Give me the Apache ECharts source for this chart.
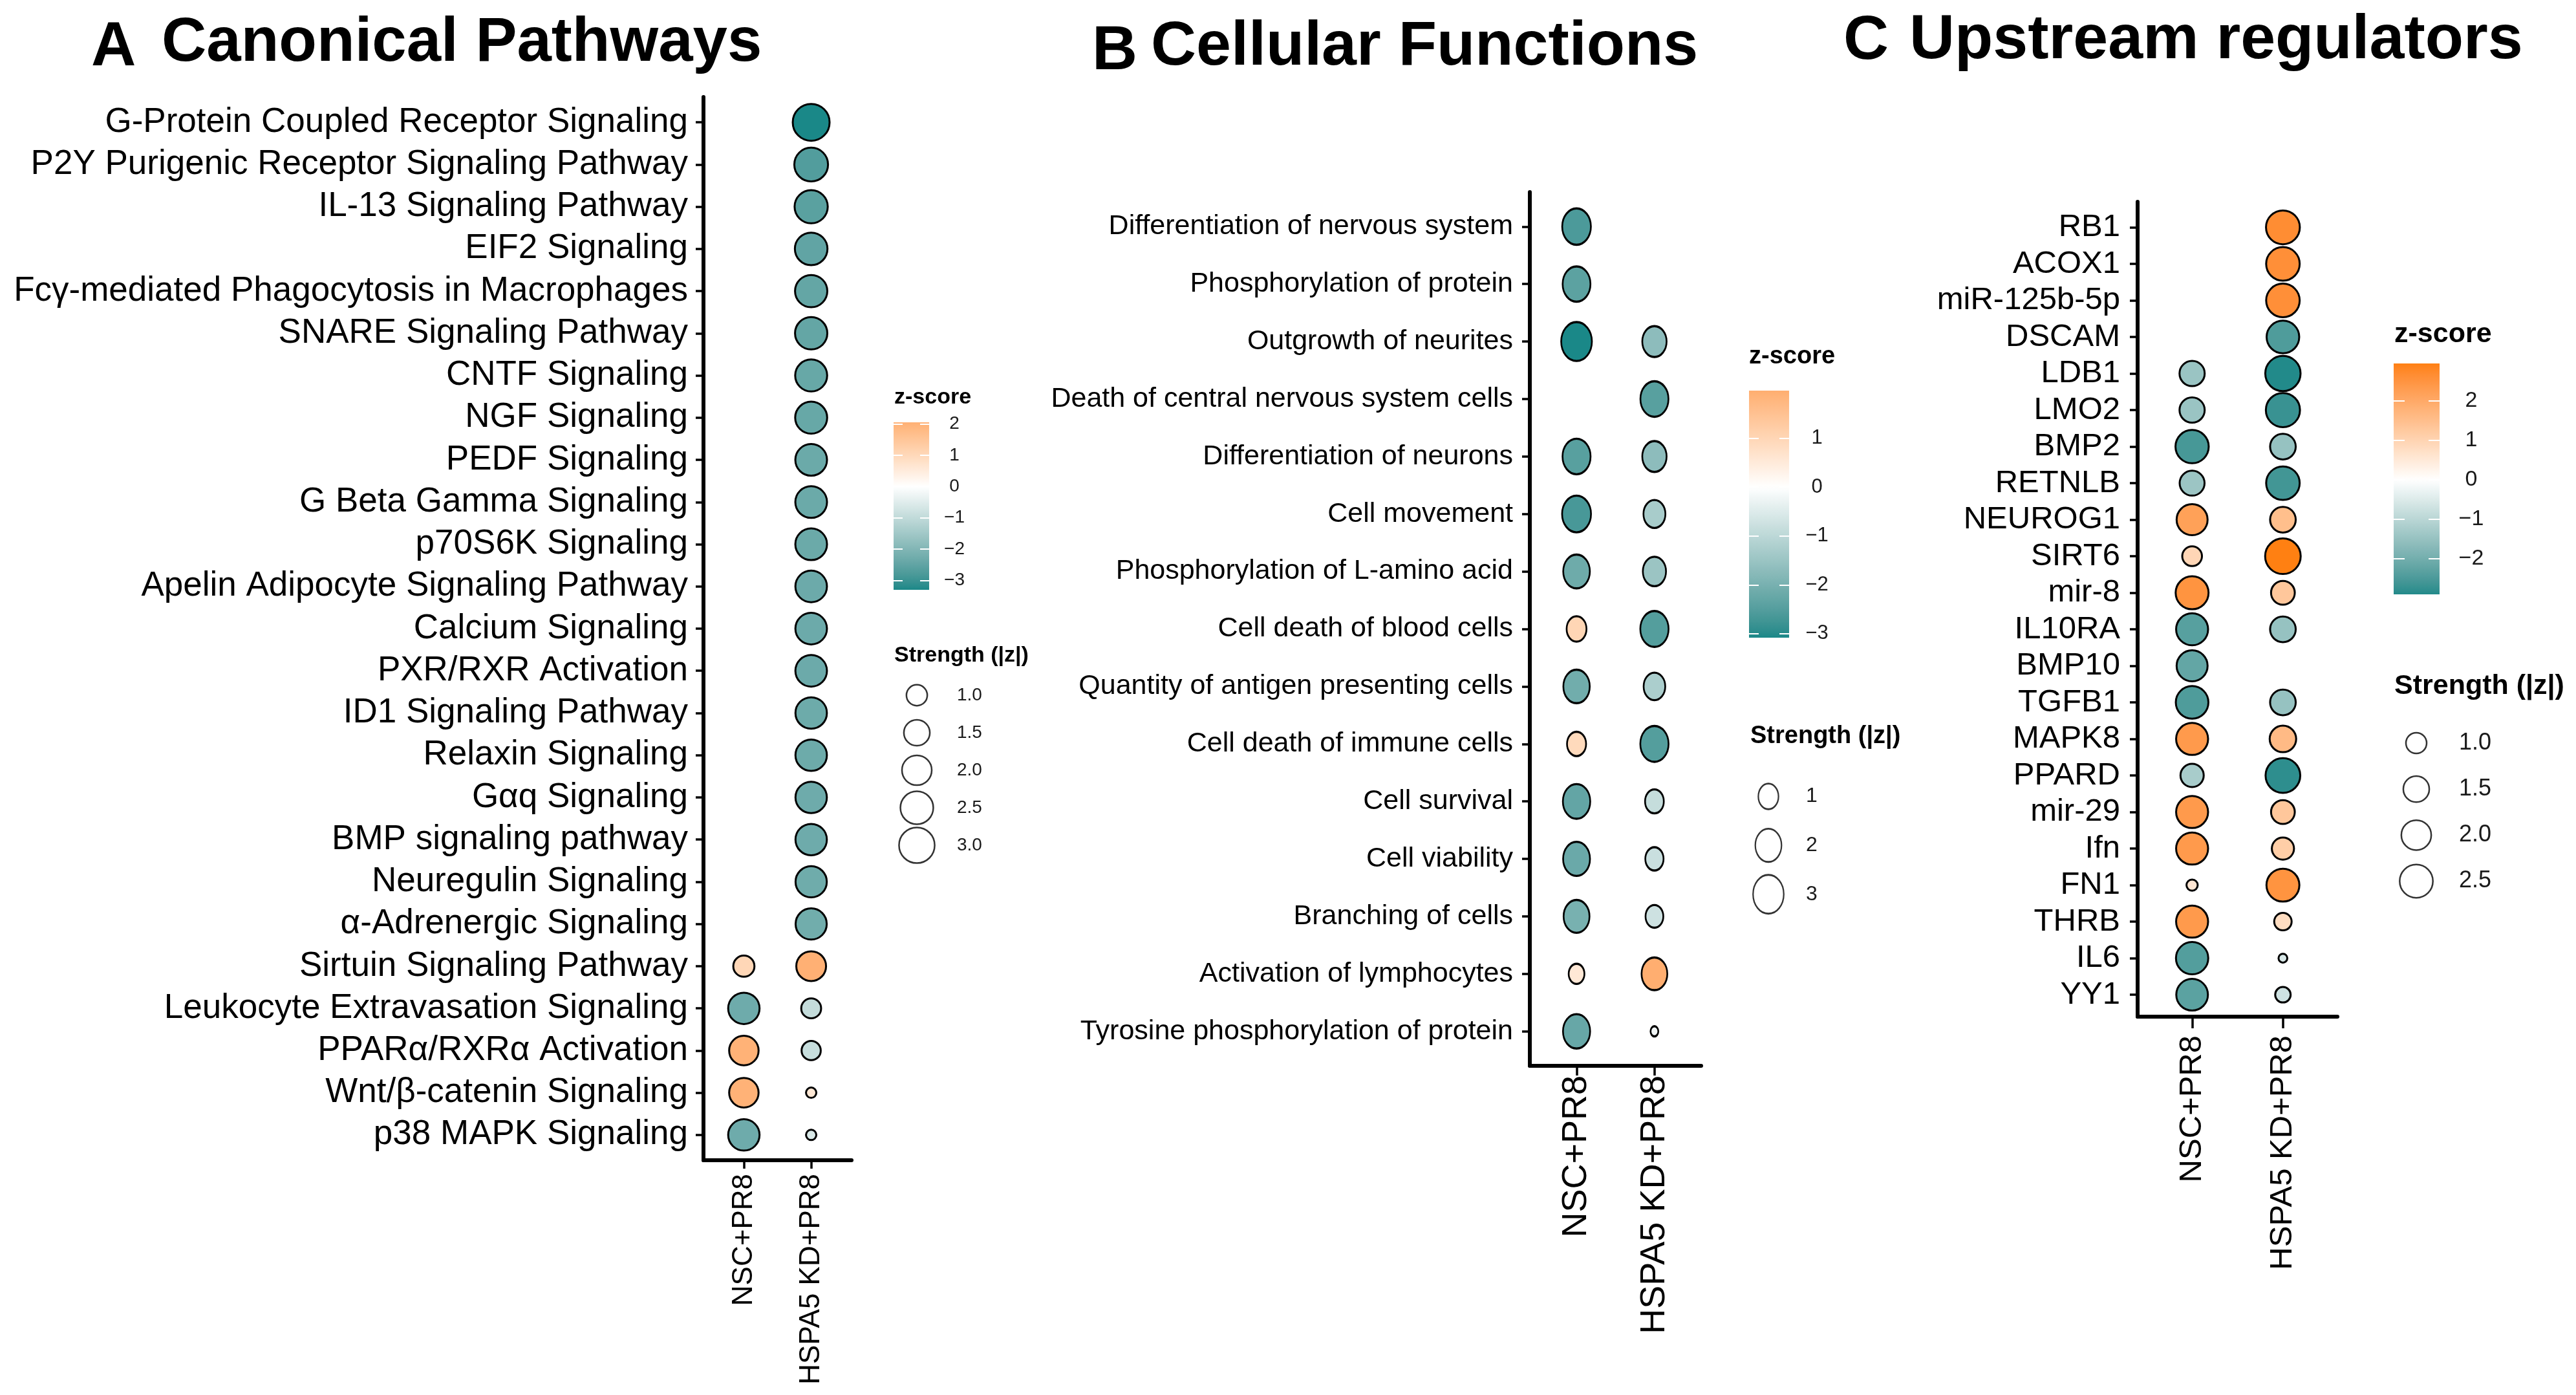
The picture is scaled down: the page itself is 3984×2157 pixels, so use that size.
<!DOCTYPE html>
<html><head><meta charset="utf-8">
<script src="https://cdn.jsdelivr.net/npm/echarts@6/dist/echarts.min.js"></script>
<style>html,body{margin:0;padding:0;background:#fff}#c{width:3984px;height:2157px}</style>
</head><body><div id="c"></div>
<script>
// ---------------- DATA ----------------
const groups = ['NSC+PR8', 'HSPA5 KD+PR8'];

const pathways = ['G-Protein Coupled Receptor Signaling', 'P2Y Purigenic Receptor Signaling Pathway', 'IL-13 Signaling Pathway',
  'EIF2 Signaling', 'Fcγ-mediated Phagocytosis in Macrophages', 'SNARE Signaling Pathway', 'CNTF Signaling', 'NGF Signaling',
  'PEDF Signaling', 'G Beta Gamma Signaling', 'p70S6K Signaling', 'Apelin Adipocyte Signaling Pathway', 'Calcium Signaling',
  'PXR/RXR Activation', 'ID1 Signaling Pathway', 'Relaxin Signaling', 'Gαq Signaling', 'BMP signaling pathway',
  'Neuregulin Signaling', 'α-Adrenergic Signaling', 'Sirtuin Signaling Pathway', 'Leukocyte Extravasation Signaling',
  'PPARα/RXRα Activation', 'Wnt/β-catenin Signaling', 'p38 MAPK Signaling'];
const pathwaysNSC = [null, null, null, null, null, null, null, null, null, null, null, null, null, null, null, null, null, null,
  null, null, 1.05, -2.3, 2.0, 2.0, -2.3];
const pathwaysKD = [-3.3, -2.7, -2.6, -2.5, -2.45, -2.45, -2.4, -2.4, -2.35, -2.35, -2.35, -2.33, -2.33, -2.33, -2.31, -2.31,
  -2.3, -2.3, -2.28, -2.26, 2.05, -0.95, -0.9, 0.6, -0.6];

const functions = ['Differentiation of nervous system', 'Phosphorylation of protein', 'Outgrowth of neurites',
  'Death of central nervous system cells', 'Differentiation of neurons', 'Cell movement', 'Phosphorylation of L-amino acid',
  'Cell death of blood cells', 'Quantity of antigen presenting cells', 'Cell death of immune cells', 'Cell survival',
  'Cell viability', 'Branching of cells', 'Activation of lymphocytes', 'Tyrosine phosphorylation of protein'];
const functionsNSC = [-2.6, -2.4, -3.08, null, -2.45, -2.65, -2.15, 1.0, -2.1, 0.9, -2.3, -2.2, -2.0, 0.55, -2.25];
const functionsKD = [null, null, -1.7, -2.45, -1.7, -1.3, -1.5, -2.5, -1.25, -2.5, -0.86, -0.8, -0.75, 1.97, -0.2];

const regulators = ['RB1', 'ACOX1', 'miR-125b-5p', 'DSCAM', 'LDB1', 'LMO2', 'BMP2', 'RETNLB', 'NEUROG1', 'SIRT6', 'mir-8',
  'IL10RA', 'BMP10', 'TGFB1', 'MAPK8', 'PPARD', 'mir-29', 'Ifn', 'FN1', 'THRB', 'IL6', 'YY1'];
const regulatorsNSC = [null, null, null, null, -1.45, -1.45, -2.55, -1.42, 2.2, 0.95, 2.5, -2.35, -2.2, -2.45, 2.35, -1.25,
  2.35, 2.35, 0.57, 2.35, -2.4, -2.3];
const regulatorsKD = [2.65, 2.6, 2.6, -2.45, -2.9, -2.7, -1.5, -2.6, 1.5, 2.95, 1.3, -1.5, null, -1.5, 1.6, -2.8, 1.3, 1.15,
  2.5, 0.8, -0.55, -0.7];

const zTicksA = [-3, -2, -1, 0, 1, 2];
const zTicksB = [-3, -2, -1, 0, 1];
const zTicksC = [-2, -1, 0, 1, 2];
const strengthA = [1.0, 1.5, 2.0, 2.5, 3.0];
const strengthB = [1, 2, 3];
const strengthC = [1.0, 1.5, 2.0, 2.5];

// ---------------- STYLE / COLOUR ----------------
const FONT = "'Liberation Sans', Arial, Helvetica, sans-serif";
const LOW = '#1a8888', MID = '#ffffff', HIGH = '#ff8012';

function hex2rgb(h) { h = h.replace('#', ''); return [0, 2, 4].map(i => parseInt(h.substr(i, 2), 16)); }
function toLin(c) { c /= 255; return c <= 0.04045 ? c / 12.92 : Math.pow((c + 0.055) / 1.055, 2.4); }
function fromLin(c) { const v = c <= 0.0031308 ? 12.92 * c : 1.055 * Math.pow(c, 1 / 2.4) - 0.055; return Math.round(Math.min(1, Math.max(0, v)) * 255); }
const XN = 0.95047, YN = 1, ZN = 1.08883;
function fL(t) { return t > 0.008856 ? Math.cbrt(t) : 7.787 * t + 16 / 116; }
function fLinv(t) { const t3 = t * t * t; return t3 > 0.008856 ? t3 : (t - 16 / 116) / 7.787; }
function rgb2lab(rgb) {
  const [r, g, b] = rgb.map(toLin);
  const X = (0.4124 * r + 0.3576 * g + 0.1805 * b) / XN, Y = (0.2126 * r + 0.7152 * g + 0.0722 * b) / YN, Z = (0.0193 * r + 0.1192 * g + 0.9505 * b) / ZN;
  const fx = fL(X), fy = fL(Y), fz = fL(Z);
  return [116 * fy - 16, 500 * (fx - fy), 200 * (fy - fz)];
}
function lab2rgb(lab) {
  const [L, a, bb] = lab;
  const fy = (L + 16) / 116, fx = fy + a / 500, fz = fy - bb / 200;
  const X = XN * fLinv(fx), Y = YN * fLinv(fy), Z = ZN * fLinv(fz);
  const r = 3.2406 * X - 1.5372 * Y - 0.4986 * Z, g = -0.9689 * X + 1.8758 * Y + 0.0415 * Z, b = 0.0557 * X - 0.2040 * Y + 1.0570 * Z;
  return 'rgb(' + [r, g, b].map(fromLin).join(',') + ')';
}
const LABS = [LOW, MID, HIGH].map(h => rgb2lab(hex2rgb(h)));
function zColor(z, M) {
  let t = Math.max(0, Math.min(1, 0.5 + z / (2 * M)));
  let a, b, u;
  if (t <= 0.5) { a = LABS[0]; b = LABS[1]; u = t / 0.5; } else { a = LABS[1]; b = LABS[2]; u = (t - 0.5) / 0.5; }
  return lab2rgb(a.map((x, i) => x + (b[i] - x) * u));
}
function fmtZ(v) { return v < 0 ? '\u2212' + Math.abs(v) : String(v); }

const option = { backgroundColor: '#fff', animation: false, title: [], grid: [], xAxis: [], yAxis: [], series: [] };

function addPanel(p) {
  const all = p.nsc.concat(p.kd).filter(v => v !== null);
  const zmin = Math.min(...all), zmax = Math.max(...all);
  const M = Math.max(Math.abs(zmin), Math.abs(zmax));
  const abs = all.map(Math.abs);
  const vmin = Math.min(...abs), vmax = Math.max(...abs);
  const diam = v => p.dmin + (p.dmax - p.dmin) * Math.sqrt(Math.max(0, (v - vmin) / (vmax - vmin)));
  const asp = p.aspect || 1;
  const symSize = (v, bw) => { const d = diam(v); return [d - bw, d * asp - bw]; };
  const BW = 3;

  const tstyle = (size, weight) => ({ fontFamily: FONT, fontWeight: weight, fontSize: size, color: '#000' });
  option.title.push({ text: p.letter, left: p.letterPos[0], top: p.letterPos[1], padding: 0, textStyle: tstyle(p.titleSize, 'bold') });
  option.title.push({ text: p.title, left: p.titlePos[0], top: p.titlePos[1], padding: 0, textStyle: tstyle(p.titleSize, 'bold') });
  option.title.push({ text: 'z-score', left: p.zTitle[0], top: p.zTitle[1], padding: 0, textStyle: tstyle(p.legTitleSize, 'bold') });
  option.title.push({ text: 'Strength (|z|)', left: p.sTitle[0], top: p.sTitle[1], padding: 0, textStyle: tstyle(p.legTitleSize, 'bold') });

  // main dot plot
  const n = p.cats.length;
  const rows = p.cats.map((_, i) => i);
  const gi = option.grid.length;
  option.grid.push({ left: p.plot.left, top: p.plot.top, width: p.plot.width, height: p.plot.height });
  const xi = option.xAxis.length, yi = option.yAxis.length;
  option.xAxis.push({
    gridIndex: gi, type: 'value', min: -0.6, max: 1.6,
    axisLine: { onZero: false, lineStyle: { color: '#000', width: 6 } },
    axisTick: { customValues: [0, 1], length: p.xTickLen, lineStyle: { color: '#000', width: 3.5 } },
    axisLabel: { customValues: [0, 1], formatter: v => groups[Math.round(v)], rotate: 90, margin: p.xMargin,
      fontFamily: FONT, fontSize: p.xFont, color: '#000' },
    splitLine: { show: false }
  });
  option.yAxis.push({
    gridIndex: gi, type: 'value', min: -(p.yPadTop || 0.6), max: n - 0.4, inverse: true,
    axisLine: { onZero: false, lineStyle: { color: '#000', width: 6 } },
    axisTick: { customValues: rows, length: 12, lineStyle: { color: '#000', width: 3.5 } },
    axisLabel: { customValues: rows, formatter: v => p.cats[Math.round(v)], margin: p.yMargin,
      fontFamily: FONT, fontSize: p.yFont, color: '#000' },
    splitLine: { show: false }
  });
  const data = [];
  [p.nsc, p.kd].forEach((arr, g) => arr.forEach((z, i) => { if (z !== null) data.push([g, i, z]); }));
  option.series.push({
    type: 'scatter', xAxisIndex: xi, yAxisIndex: yi, data: data, z: 3, silent: true,
    symbolSize: val => symSize(Math.abs(val[2]), BW),
    itemStyle: { color: params => zColor(params.data[2], M), borderColor: '#000', borderWidth: BW, opacity: 1 }
  });

  // colour bar
  const cb = p.cbar;
  const cg = option.grid.length;
  option.grid.push({ left: cb.left, top: cb.top, width: cb.width, height: cb.height });
  const cxi = option.xAxis.length;
  option.xAxis.push({ gridIndex: cg, type: 'value', min: 0, max: 1, show: false });
  const cyi = option.yAxis.length;
  const tickStyle = { inside: true, customValues: p.zTicks, length: cb.tickLen, lineStyle: { color: '#fff', width: 2 } };
  option.yAxis.push({ gridIndex: cg, type: 'value', min: zmin, max: zmax, position: 'left', z: 10,
    axisLine: { show: false }, axisLabel: { show: false }, splitLine: { show: false }, axisTick: tickStyle });
  option.yAxis.push({ gridIndex: cg, type: 'value', min: zmin, max: zmax, position: 'right', z: 10,
    axisLine: { show: false }, splitLine: { show: false }, axisTick: tickStyle,
    axisLabel: { customValues: p.zTicks, formatter: fmtZ, align: 'center', margin: cb.labelMargin,
      fontFamily: FONT, fontSize: cb.font, color: '#1a1a1a' } });
  option.series.push({
    type: 'custom', xAxisIndex: cxi, yAxisIndex: cyi, silent: true, z: 1,
    data: [[0, zmin, zmax]],
    renderItem: (params, api) => {
      const top = api.coord([0, zmax]), bot = api.coord([0, zmin]);
      const cs = params.coordSys;
      const stops = [];
      for (let i = 0; i <= 60; i++) { const z = zmax - (zmax - zmin) * i / 60; stops.push({ offset: i / 60, color: zColor(z, M) }); }
      return { type: 'rect', shape: { x: cs.x, y: top[1], width: cs.width, height: bot[1] - top[1] },
        style: { fill: new echarts.graphic.LinearGradient(0, 0, 0, 1, stops) } };
    }
  });

  // size legend
  const sl = p.sleg;
  const sg = option.grid.length;
  option.grid.push({ left: sl.cx - 30, width: 60, top: sl.top, height: sl.height });
  const sxi = option.xAxis.length;
  option.xAxis.push({ gridIndex: sg, type: 'value', min: -1, max: 1, show: false });
  const syi = option.yAxis.length;
  option.yAxis.push({ gridIndex: sg, type: 'category', inverse: true, position: 'right',
    data: p.strength.map(v => p.sfmt(v)),
    axisLine: { show: false }, axisTick: { show: false }, splitLine: { show: false },
    axisLabel: { margin: sl.margin, align: 'left', fontFamily: FONT, fontSize: sl.font, color: '#1a1a1a' } });
  option.series.push({
    type: 'scatter', xAxisIndex: sxi, yAxisIndex: syi, silent: true,
    data: p.strength.map((v, i) => [0, i, v]),
    symbolSize: val => symSize(val[2], 2.5),
    itemStyle: { color: '#fff', borderColor: '#000', borderWidth: 2.5 }
  });
}

addPanel({
  letter: 'A', title: 'Canonical Pathways', letterPos: [141, 27], titlePos: [250, 20], titleSize: 96,
  cats: pathways, nsc: pathwaysNSC, kd: pathwaysKD, zTicks: zTicksA, strength: strengthA, sfmt: v => v.toFixed(1),
  plot: { left: 1088, top: 150, width: 229, height: 1644 }, yFont: 53, yMargin: 24, xFont: 44, xMargin: 21, xTickLen: 13,
  dmin: 19, dmax: 60,
  legTitleSize: 34, zTitle: [1383, 598], sTitle: [1383, 997],
  cbar: { left: 1382, top: 653, width: 55, height: 259, tickLen: 14, labelMargin: 39, font: 28 },
  sleg: { cx: 1418, top: 1046, height: 290, margin: 32, font: 28 }
});
addPanel({
  letter: 'B', title: 'Cellular Functions', letterPos: [1689, 32], titlePos: [1780, 25], titleSize: 97,
  cats: functions, nsc: functionsNSC, kd: functionsKD, zTicks: zTicksB, strength: strengthB, sfmt: v => String(v),
  plot: { left: 2366, top: 297, width: 265, height: 1351 }, yFont: 43, yMargin: 26, xFont: 54, xMargin: 15, xTickLen: 15,
  dmin: 15, dmax: 50.5, aspect: 1.25,
  legTitleSize: 38, zTitle: [2705, 533], sTitle: [2707, 1120],
  cbar: { left: 2705, top: 604, width: 62, height: 382, tickLen: 15, labelMargin: 43, font: 31 },
  sleg: { cx: 2735, top: 1193.6, height: 227, margin: 28, font: 32 }
});
addPanel({
  letter: 'C', title: 'Upstream regulators', letterPos: [2851, 16], titlePos: [2953, 15], titleSize: 97,
  cats: regulators, nsc: regulatorsNSC, kd: regulatorsKD, zTicks: zTicksC, strength: strengthC, sfmt: v => v.toFixed(1),
  plot: { left: 3306, top: 312, width: 309, height: 1260 }, yPadTop: 0.7, yFont: 49, yMargin: 27, xFont: 49, xMargin: 29, xTickLen: 18,
  dmin: 16.6, dmax: 58,
  legTitleSize: 43, zTitle: [3703, 496], sTitle: [3703, 1040],
  cbar: { left: 3702, top: 562, width: 71, height: 357, tickLen: 17, labelMargin: 49, font: 34 },
  sleg: { cx: 3737, top: 1113.4, height: 284.7, margin: 36, font: 36 }
});

const chart = echarts.init(document.getElementById('c'), null, { renderer: 'canvas', width: 3984, height: 2157, devicePixelRatio: 1 });
chart.setOption(option);
</script>
</body></html>
